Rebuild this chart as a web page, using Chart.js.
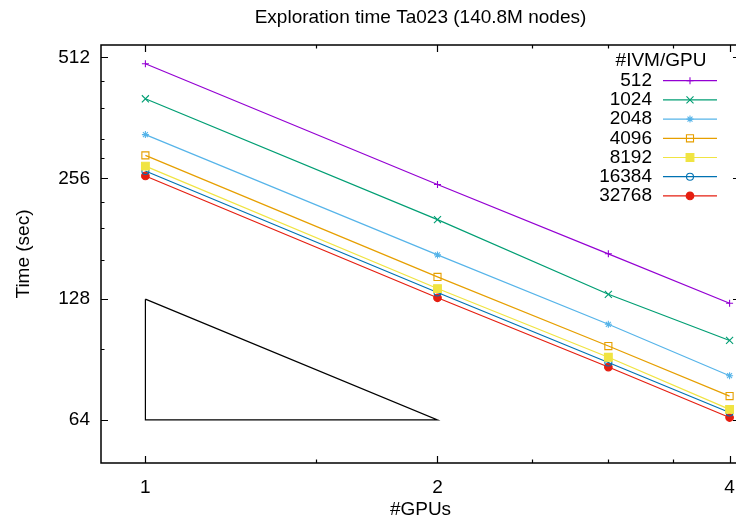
<!DOCTYPE html>
<html>
<head>
<meta charset="utf-8">
<script src="https://cdn.jsdelivr.net/npm/chart.js@4/dist/chart.umd.min.js"></script>
<style>
html,body{margin:0;padding:0;background:#fff;overflow:hidden;}
#wrap{width:736px;height:525px;position:relative;overflow:hidden;}
canvas{display:block;}
</style>
</head>
<body>
<div id="wrap"><canvas id="c" width="748" height="525"></canvas></div>
<script>
// ---- data ----
const gpus = [1, 2, 3, 4];
const seriesNames = ['512', '1024', '2048', '4096', '8192', '16384', '32768'];
const t512   = [494, 247, 166, 125];
const t1024  = [404, 202, 131.6, 101];
const t2048  = [329, 165, 110.8, 82.5];
const t4096  = [292, 145.4, 97.8, 73.4];
const t8192  = [274.5, 136, 91.7, 68];
const t16384 = [267, 133, 89, 66.8];
const t32768 = [259.5, 129, 86.7, 64.9];
const triangleX = [1, 1, 2, 1];
const triangleY = [128, 64, 64, 128];
const xTicks = [1, 2, 4];
const xMinorTicks = [1.5, 2.5, 3, 3.5];
const yTicks = [64, 128, 256, 512];
const yMinorTicks = [96, 160, 192, 224, 288, 320, 384, 448];

const seriesValues = [t512, t1024, t2048, t4096, t8192, t16384, t32768];
const colors = ['#9400d3', '#009e73', '#56b4e9', '#e69f00', '#f0e442', '#0072b2', '#e51e10'];
const styles = ['cross', 'crossRot', 'star', 'rect', 'rect', 'circle', 'circle'];
const radii = [3.5, 5, 3.5, 5, 5.5, 3.5, 3.8];
const filled = [false, false, false, false, true, false, true];

const FONT = "'Liberation Sans', Arial, Helvetica, sans-serif";

const datasets = seriesValues.map((vals, i) => ({
  label: seriesNames[i],
  data: gpus.map((g, k) => ({x: g, y: vals[k]})),
  borderColor: colors[i],
  backgroundColor: filled[i] ? colors[i] : 'rgba(0,0,0,0)',
  pointBackgroundColor: filled[i] ? colors[i] : 'rgba(0,0,0,0)',
  pointBorderColor: colors[i],
  pointStyle: styles[i],
  pointRadius: radii[i],
  pointBorderWidth: 1.1,
  borderWidth: 1.2,
  tension: 0,
  fill: false
}));
datasets.push({
  label: '_triangle',
  data: triangleX.map((x, k) => ({x: x, y: triangleY[k]})),
  borderColor: '#000',
  borderWidth: 1.2,
  pointRadius: 0,
  fill: false,
  tension: 0
});

function drawMarker(ctx, style, x, y, r, color, fill) {
  ctx.save();
  ctx.strokeStyle = color;
  ctx.fillStyle = color;
  ctx.lineWidth = 1.1;
  ctx.beginPath();
  const d = r * Math.SQRT1_2;
  if (style === 'cross') {
    ctx.moveTo(x - r, y); ctx.lineTo(x + r, y);
    ctx.moveTo(x, y - r); ctx.lineTo(x, y + r);
    ctx.stroke();
  } else if (style === 'crossRot') {
    ctx.moveTo(x - d, y - d); ctx.lineTo(x + d, y + d);
    ctx.moveTo(x - d, y + d); ctx.lineTo(x + d, y - d);
    ctx.stroke();
  } else if (style === 'star') {
    ctx.moveTo(x - r, y); ctx.lineTo(x + r, y);
    ctx.moveTo(x, y - r); ctx.lineTo(x, y + r);
    ctx.moveTo(x - d, y - d); ctx.lineTo(x + d, y + d);
    ctx.moveTo(x - d, y + d); ctx.lineTo(x + d, y - d);
    ctx.stroke();
  } else if (style === 'rect') {
    ctx.rect(x - d, y - d, 2 * d, 2 * d);
    if (fill) ctx.fill();
    ctx.stroke();
  } else {
    ctx.arc(x, y, r, 0, Math.PI * 2);
    if (fill) ctx.fill();
    ctx.stroke();
  }
  ctx.restore();
}

const framePlugin = {
  id: 'frame',
  beforeDatasetsDraw(chart) {
    const ctx = chart.ctx;
    const a = chart.chartArea;
    const xs = chart.scales.x, ys = chart.scales.y;
    const rightX = a.right;
    ctx.save();
    ctx.strokeStyle = '#000';
    ctx.lineWidth = 1.5;
    ctx.beginPath();
    ctx.moveTo(rightX, a.top); ctx.lineTo(a.left, a.top);
    ctx.lineTo(a.left, a.bottom); ctx.lineTo(rightX, a.bottom); ctx.lineTo(rightX, a.top);
    ctx.stroke();
    ctx.lineWidth = 1.2;
    ctx.beginPath();
    const tick = (vals, len) => {
      vals.forEach(v => {
        const px = Math.round(xs.getPixelForValue(v)) + 0.5;
        ctx.moveTo(px, a.bottom); ctx.lineTo(px, a.bottom - len);
        ctx.moveTo(px, a.top); ctx.lineTo(px, a.top + len);
      });
    };
    const ytick = (vals, len) => {
      vals.forEach(v => {
        const py = Math.round(ys.getPixelForValue(v)) + 0.5;
        ctx.moveTo(a.left, py); ctx.lineTo(a.left + len, py);
        ctx.moveTo(rightX, py); ctx.lineTo(rightX - len, py);
      });
    };
    tick(xTicks, 7); tick(xMinorTicks, 3.5);
    ytick(yTicks, 7); ytick(yMinorTicks, 3.5);
    ctx.stroke();
    ctx.restore();
  },
  afterDatasetsDraw(chart) {
    const ctx = chart.ctx;
    const a = chart.chartArea;
    const textRight = a.right - 88;
    const lineL = a.right - 77, lineR = a.right - 23;
    const top = a.top + 35.7;
    const step = 19.2;
    ctx.save();
    ctx.font = '19px ' + FONT;
    ctx.fillStyle = '#000';
    ctx.textBaseline = 'middle';
    ctx.textAlign = 'center';
    ctx.fillText('#IVM/GPU', a.right - 79, a.top + 16);
    ctx.textAlign = 'right';
    chart.data.datasets.forEach((ds, i) => {
      if (ds.label.startsWith('_')) return;
      const y = top + i * step;
      ctx.fillStyle = '#000';
      ctx.fillText(ds.label, textRight, y);
      ctx.strokeStyle = ds.borderColor;
      ctx.lineWidth = 1.2;
      ctx.beginPath();
      ctx.moveTo(lineL, y); ctx.lineTo(lineR, y);
      ctx.stroke();
      drawMarker(ctx, styles[i], (lineL + lineR) / 2, y, radii[i], colors[i], filled[i]);
    });
    ctx.restore();
  }
};

Chart.defaults.color = '#000';
Chart.defaults.font.family = FONT;

new Chart(document.getElementById('c'), {
  type: 'line',
  data: { datasets: datasets },
  options: {
    responsive: false,
    animation: false,
    devicePixelRatio: 1,
    layout: { padding: { left: 0, right: 0, top: 0, bottom: 0 } },
    plugins: {
      legend: { display: false },
      tooltip: { enabled: false },
      title: {
        display: true,
        fullSize: false,
        text: 'Exploration time Ta023 (140.8M nodes)',
        color: '#000',
        font: { size: 19, weight: 'normal', family: FONT },
        padding: { top: 6, bottom: 16.2 }
      }
    },
    scales: {
      x: {
        type: 'logarithmic',
        min: 0.9, max: 4.1,
        afterBuildTicks: s => { s.ticks = xTicks.map(v => ({value: v})); },
        afterFit: s => { s.height = 62; },
        grid: { display: false, drawTicks: false, tickLength: 0 },
        border: { display: false },
        ticks: {
          font: { size: 19, family: FONT },
          color: '#000',
          padding: 13,
          maxRotation: 0,
          autoSkip: false,
          callback: v => String(v)
        },
        title: {
          display: true, text: '#GPUs', color: '#000',
          font: { size: 19, family: FONT },
          padding: { top: 0, bottom: 3.6 }
        }
      },
      y: {
        type: 'logarithmic',
        min: 50, max: 550,
        afterBuildTicks: s => { s.ticks = yTicks.map(v => ({value: v})); },
        afterFit: s => { s.width = 101; },
        grid: { display: false, drawTicks: false, tickLength: 0 },
        border: { display: false },
        ticks: {
          font: { size: 19, family: FONT },
          color: '#000',
          padding: 11,
          autoSkip: false,
          callback: v => String(v)
        },
        title: {
          display: true, text: 'Time (sec)', color: '#000',
          font: { size: 19, family: FONT },
          padding: { top: 12, bottom: 0 }
        }
      }
    }
  },
  plugins: [framePlugin]
});
</script>
</body>
</html>
